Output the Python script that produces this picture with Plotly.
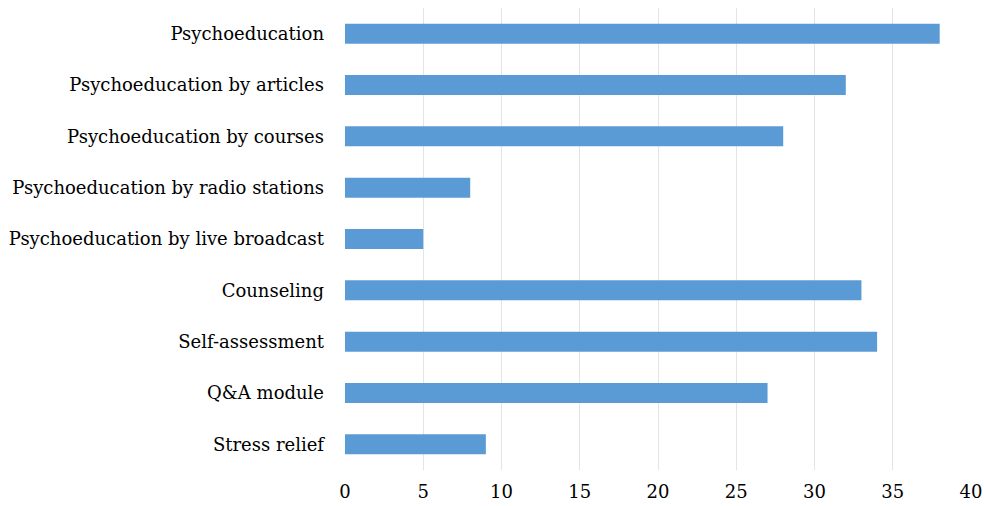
import plotly.graph_objects as go

categories = [
    "Psychoeducation",
    "Psychoeducation by articles",
    "Psychoeducation by courses",
    "Psychoeducation by radio stations",
    "Psychoeducation by live broadcast",
    "Counseling",
    "Self-assessment",
    "Q&A module",
    "Stress relief",
]
counts = [38, 32, 28, 8, 5, 33, 34, 27, 9]
x_ticks = [0, 5, 10, 15, 20, 25, 30, 35, 40]

fig = go.Figure(
    go.Bar(
        x=counts,
        y=categories,
        orientation="h",
        marker=dict(color="#5B9BD5", line=dict(width=0)),
        width=0.39,
    )
)

fig.update_layout(
    width=984,
    height=506,
    margin=dict(l=345, r=13, t=8, b=36),
    plot_bgcolor="white",
    paper_bgcolor="white",
    showlegend=False,
    font=dict(family="DejaVu Serif", size=17, color="#000000"),
    xaxis=dict(
        range=[0, 40],
        tickvals=x_ticks,
        showgrid=True,
        gridcolor="#E4E4E4",
        gridwidth=1,
        zeroline=False,
        showline=False,
        ticks="",
        automargin=False,
        ticklabelstandoff=9,
        tickfont=dict(size=18),
    ),
    yaxis=dict(
        autorange="reversed",
        showgrid=False,
        showline=False,
        ticks="",
        automargin=False,
        ticklabelstandoff=20,
        tickfont=dict(size=18),
    ),
)

fig.write_html("out.html")
